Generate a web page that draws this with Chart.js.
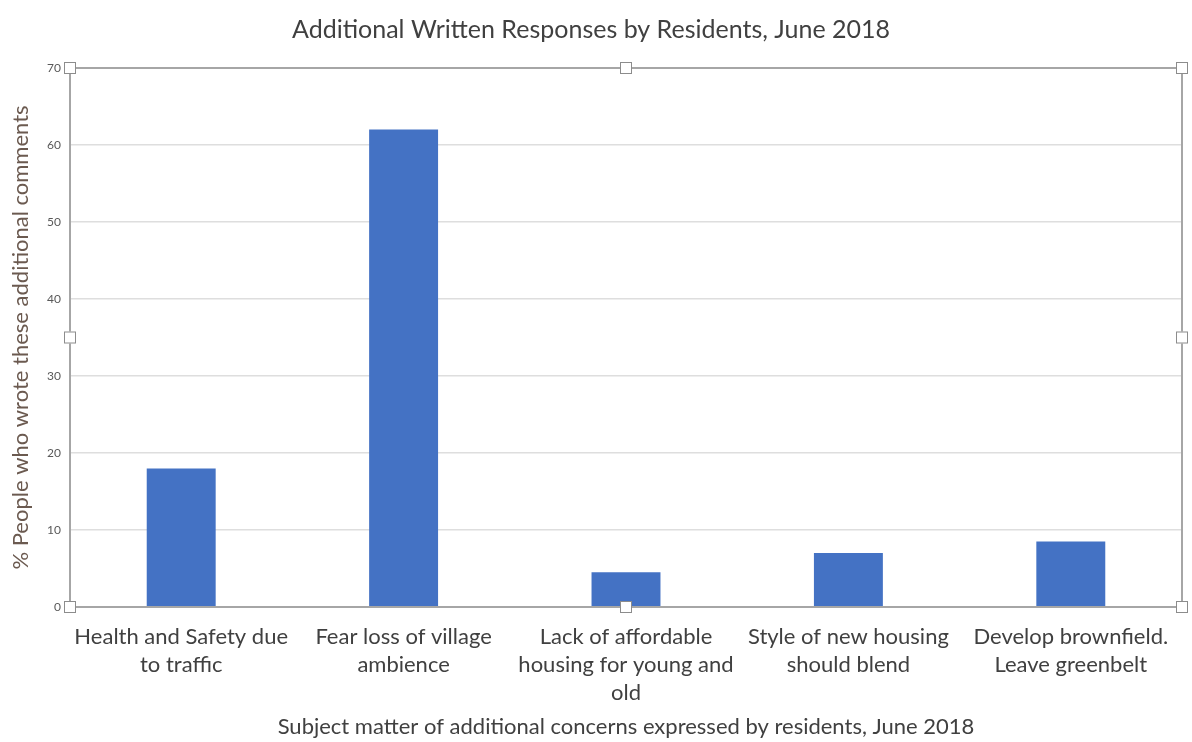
<!DOCTYPE html>
<html>
<head>
<meta charset="utf-8">
<script src="https://cdn.jsdelivr.net/npm/chart.js@4"></script>
<style>
  html, body { margin: 0; padding: 0; background: #fff; }
  #wrap { width: 1192px; height: 742px; position: relative; }
</style>
</head>
<body>
<div id="wrap"><canvas id="chart"></canvas></div>
<script>
const categories = [
  ['Health and Safety due', 'to traffic'],
  ['Fear loss of village', 'ambience'],
  ['Lack of affordable', 'housing for young and', 'old'],
  ['Style of new housing', 'should blend'],
  ['Develop brownfield.', 'Leave greenbelt']
];
const percentValues = [18, 62, 4.5, 7, 8.5];
const yTicks = [0, 10, 20, 30, 40, 50, 60, 70];

const FONT = 'Lato, "Open Sans", sans-serif';
const TEXT = '#595959';

// draws the grey frame and the little white handles around the plot
const frame = {
  id: 'frame',
  afterDatasetsDraw(chart) {
    const { ctx, chartArea: a } = chart;
    ctx.save();
    ctx.strokeStyle = '#a6a6a6';
    ctx.lineWidth = 2;
    ctx.strokeRect(a.left, a.top, a.right - a.left, a.bottom - a.top);
    const mx = (a.left + a.right) / 2, my = (a.top + a.bottom) / 2;
    const pts = [[a.left, a.top], [mx, a.top], [a.right, a.top], [a.left, my],
                 [a.right, my], [a.left, a.bottom], [mx, a.bottom], [a.right, a.bottom]];
    ctx.fillStyle = '#fff';
    ctx.strokeStyle = '#8c8c8c';
    ctx.lineWidth = 1;
    pts.forEach(([x, y]) => {
      ctx.fillRect(x - 6, y - 6, 12, 12);
      ctx.strokeRect(x - 5.5, y - 5.5, 11, 11);
    });
    ctx.restore();
  }
};

new Chart(document.querySelector('#chart').getContext('2d'), {
  type: 'bar',
  data: {
    labels: categories,
    datasets: [{
      data: percentValues,
      backgroundColor: '#4472c4',
      categoryPercentage: 1,
      barPercentage: 0.31
    }]
  },
  options: {
    responsive: true,
    maintainAspectRatio: false,
    animation: false,
    layout: { padding: { left: 0, right: 10, top: 0, bottom: 0 } },
    plugins: {
      legend: { display: false },
      tooltip: { enabled: false },
      title: {
        display: true,
        text: 'Additional Written Responses by Residents, June 2018',
        color: '#404040',
        font: { family: FONT, size: 25, weight: 'normal' },
        padding: { top: 15, bottom: 23 }
      }
    },
    scales: {
      x: {
        grid: { display: false },
        border: { display: false },
        ticks: {
          color: '#404040',
          font: { family: FONT, size: 22, lineHeight: 1.27 },
          padding: 8,
          maxRotation: 0,
          autoSkip: false
        },
        title: {
          display: true,
          text: 'Subject matter of additional concerns expressed by residents, June 2018',
          color: '#404040',
          font: { family: FONT, size: 22 },
          padding: { top: 0, bottom: 2 }
        },
        afterFit(scale) { scale.height = 135; }
      },
      y: {
        min: 0,
        max: 70,
        afterBuildTicks(scale) { scale.ticks = yTicks.map(v => ({ value: v })); },
        grid: { color: '#dedede', lineWidth: 1.5, drawTicks: false },
        border: { display: false },
        ticks: {
          color: TEXT,
          font: { family: FONT, size: 12 },
          padding: 9
        },
        title: {
          display: true,
          text: '% People who wrote these additional comments',
          color: '#6b5a50',
          font: { family: FONT, size: 22 },
          padding: { top: 8, bottom: 0 }
        },
        afterFit(scale) { scale.width = 70; }
      }
    }
  },
  plugins: [frame]
});
</script>
</body>
</html>
